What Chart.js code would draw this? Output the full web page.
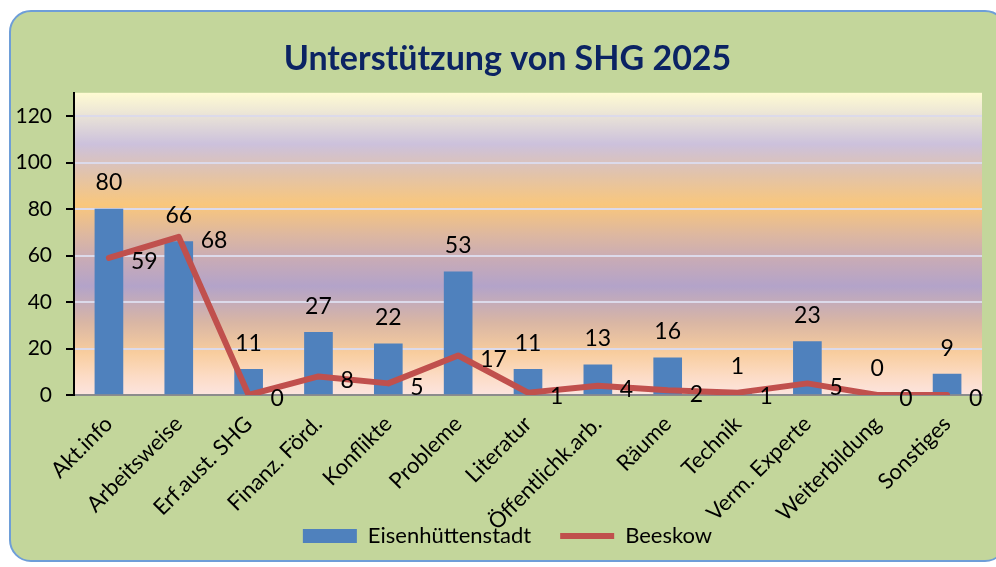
<html lang="de">
<head>
    <meta charset="UTF-8">
    <title>Unterstützung von SHG 2025</title>
    <style>
        body { margin: 0; background: #fff; overflow: hidden; }
        .chartBox {
            position: absolute; left: 9px; top: 10px;
            width: 994px; height: 548px;
            background: #C3D69B;
            border: 2px solid #6E9ED8;
            border-radius: 22px;
        }
    </style>
</head>
<body>
    <div class="chartBox">
        <canvas id="myChart" width="994" height="548"></canvas>
    </div>

    <script src="https://cdn.jsdelivr.net/npm/chart.js@4"></script>
    <script>
        // chart data
        let labels = ['Akt.info', 'Arbeitsweise', 'Erf.aust. SHG', 'Finanz. Förd.', 'Konflikte', 'Probleme',
            'Literatur', 'Öffentlichk.arb.', 'Räume', 'Technik', 'Verm. Experte', 'Weiterbildung', 'Sonstiges'];
        let eisenhuettenstadt = [80, 66, 11, 27, 22, 53, 11, 13, 16, 1, 23, 0, 9];
        let beeskow = [59, 68, 0, 8, 5, 17, 1, 4, 2, 1, 5, 0, 0];
        let yTicks = [0, 20, 40, 60, 80, 100, 120];

        const FONT = 'Lato, "Open Sans", sans-serif';

        // gradient behind the plot area
        const plotBackground = {
            id: 'plotBackground',
            beforeDraw(chart) {
                const {ctx, chartArea: a} = chart;
                const g = ctx.createLinearGradient(0, a.top, 0, a.bottom);
                g.addColorStop(0.00, '#FFFBD2');
                g.addColorStop(0.06, '#EEE8D6');
                g.addColorStop(0.17, '#CCC1DC');
                g.addColorStop(0.27, '#E2C3AA');
                g.addColorStop(0.37, '#F9C77C');
                g.addColorStop(0.47, '#DDB7A0');
                g.addColorStop(0.56, '#C6AAB8');
                g.addColorStop(0.64, '#B3A3C9');
                g.addColorStop(0.76, '#D9B6A4');
                g.addColorStop(0.86, '#F8CD9E');
                g.addColorStop(0.94, '#FCDCC6');
                g.addColorStop(1.00, '#FCE4DF');
                ctx.save();
                ctx.fillStyle = g;
                ctx.fillRect(a.left, a.top, a.right - a.left, a.bottom - a.top);
                ctx.restore();
            }
        };

        // value labels: above bars, right of line points
        const valueLabels = {
            id: 'valueLabels',
            afterDatasetsDraw(chart) {
                const ctx = chart.ctx;
                ctx.save();
                ctx.font = '23px ' + FONT;
                ctx.fillStyle = '#000';
                ctx.textBaseline = 'middle';
                chart.data.datasets.forEach((ds, i) => {
                    const meta = chart.getDatasetMeta(i);
                    meta.data.forEach((el, j) => {
                        if (ds.type === 'bar') {
                            ctx.textAlign = 'center';
                            ctx.fillText(ds.data[j], el.x, el.y - 26);
                        } else {
                            ctx.textAlign = 'left';
                            ctx.fillText(ds.data[j], el.x + 22, el.y + 4);
                        }
                    });
                });
                ctx.restore();
            }
        };

        // tick labels may run outside their axis box (like the original)
        const noLabelClip = (s) => { s._computeLabelArea = () => undefined; };

        printChart(labels, [
            {type: 'bar', label: 'Eisenhüttenstadt', data: eisenhuettenstadt, backgroundColor: '#4F81BD',
                borderWidth: 0, barThickness: 28, pointStyle: 'rect', order: 1},
            {type: 'line', label: 'Beeskow', data: beeskow, borderColor: '#C0504D', backgroundColor: '#C0504D',
                borderWidth: 6, pointRadius: 0, tension: 0, borderJoinStyle: 'round', borderCapStyle: 'round',
                pointStyle: 'line', order: 0}
        ]);

        function printChart(labels, data) {
            var ctx = document.getElementById('myChart').getContext('2d');
            var chart = new Chart(ctx, {
                data: {labels: labels, datasets: data},
                options: {
                    responsive: false,
                    animation: false,
                    layout: {padding: {left: 22, right: 23, top: 6, bottom: 3}},
                    plugins: {
                        tooltip: {enabled: false},
                        title: {
                            display: true,
                            text: 'Unterstützung von SHG 2025',
                            color: '#0B2363',
                            font: {family: FONT, size: 34, weight: 'bold'},
                            padding: {top: 21, bottom: 13}
                        },
                        legend: {
                            position: 'bottom',
                            labels: {
                                usePointStyle: true,
                                pointStyleWidth: 54,
                                boxHeight: 14,
                                padding: 29,
                                color: '#000',
                                font: {family: FONT, size: 22},
                                sort: (a, b) => a.datasetIndex - b.datasetIndex
                            }
                        }
                    },
                    scales: {
                        x: {
                            offset: true,
                            grid: {display: false, drawTicks: false},
                            border: {color: '#8C8C8C', width: 2},
                            ticks: {color: '#000', font: {family: FONT, size: 22}, minRotation: 45, maxRotation: 45, padding: 16},
                            afterFit: (s) => { s.height = 101; noLabelClip(s); }
                        },
                        y: {
                            min: 0, max: 130,
                            afterBuildTicks: (s) => { s.ticks = yTicks.map(v => ({value: v})); },
                            grid: {color: '#DCDAEA', lineWidth: 2, tickColor: '#000', tickLength: 8},
                            border: {color: '#000', width: 2},
                            ticks: {color: '#000', font: {family: FONT, size: 21}, padding: 14},
                            afterFit: (s) => { s.width = 41; noLabelClip(s); }
                        }
                    }
                },
                plugins: [plotBackground, valueLabels]
            });
        }
    </script>
</body>
</html>
